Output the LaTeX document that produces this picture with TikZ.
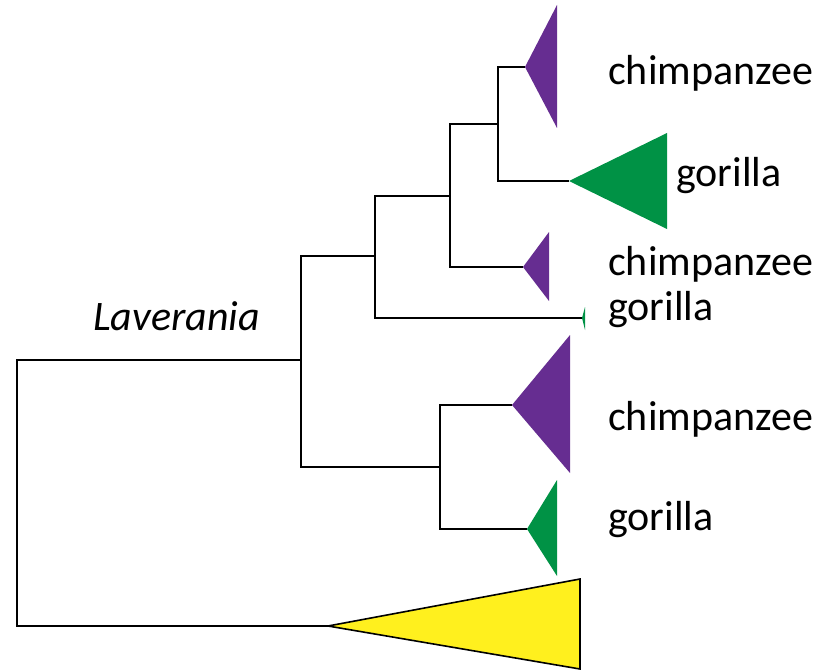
\documentclass[tikz,border=0pt]{standalone}
\usepackage{fontspec}
\setmainfont{Carlito}
\definecolor{chimp}{RGB}{102,45,145}
\definecolor{gor}{RGB}{0,146,69}
\definecolor{outg}{RGB}{255,240,30}
\tikzset{
  branch/.style={line width=2.2pt, black},
  leaflabel/.style={anchor=base west, inner sep=0pt, font=\fontsize{42}{50}\selectfont},
  cladelabel/.style={anchor=base west, inner sep=0pt, font=\fontsize{42}{50}\selectfont\itshape},
}
\begin{document}
\begin{tikzpicture}[x=1pt,y=-1pt]
\useasboundingbox (0,0) rectangle (827,671);
% internal nodes
\coordinate (root) at (17,493);
\coordinate (A) at (301,360);
\coordinate (B) at (375,256);
\coordinate (C) at (450,196);
\coordinate (D) at (498,124);
\coordinate (E) at (440,467);
% leaf apexes
\coordinate (L1) at (525,67);
\coordinate (L2) at (569,181);
\coordinate (L3) at (523,267);
\coordinate (L4) at (582,318);
\coordinate (L5) at (512,405);
\coordinate (L6) at (527,529);
\coordinate (L7) at (328,626);
% branches
\draw[branch] (A) -| (root) |- (L7);
\draw[branch] (B) -| (A) |- (E);
\draw[branch] (C) -| (B) |- (L4);
\draw[branch] (D) -| (C) |- (L3);
\draw[branch] (L1) -| (D) |- (L2);
\draw[branch] (L5) -| (E) |- (L6);
% collapsed clades
\fill[chimp] (L1) -- ++(32,-62) -- ++(0,123) -- cycle;
\fill[gor] (L2) -- ++(98,-48) -- ++(0,96) -- cycle;
\fill[chimp] (L3) -- ++(26,-35) -- ++(0,69) -- cycle;
\fill[gor] (L4) -- ++(3,-11) -- ++(0,23) -- cycle;
\fill[chimp] (L5) -- ++(58,-70) -- ++(0,138) -- cycle;
\fill[gor] (L6) -- ++(30,-49) -- ++(0,96) -- cycle;
\filldraw[fill=outg, draw=black, line width=1.6pt, line join=miter] (L7) -- ++(252,-47) -- ++(0,90) -- cycle;
% labels
\node[leaflabel] (t1) at (608,85) {chimpanzee};
\node[leaflabel] (t2) at (676,187) {gorilla};
\node[leaflabel] (t3) at (608,275) {chimpanzee};
\node[leaflabel] (t4) at (608,320) {gorilla};
\node[leaflabel] (t5) at (608,430) {chimpanzee};
\node[leaflabel] (t6) at (608,530) {gorilla};
\node[cladelabel] (lav) at (93,330) {Laverania};
\end{tikzpicture}
\end{document}
